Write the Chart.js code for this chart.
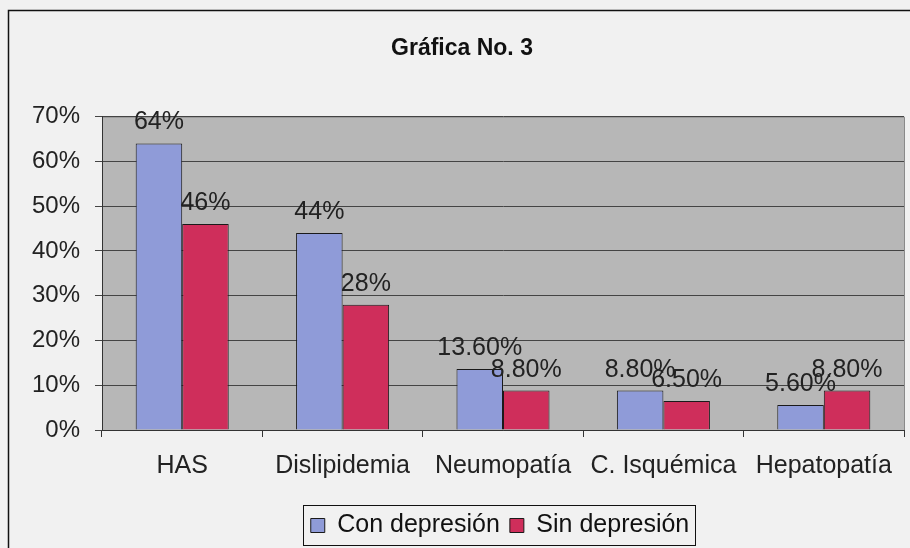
<!DOCTYPE html>
<html>
<head>
<meta charset="utf-8">
<script src="https://cdn.jsdelivr.net/npm/chart.js@4"></script>
<style>
  html, body { margin: 0; padding: 0; background: #f1f1f1; }
  #wrap { width: 910px; height: 548px; }
</style>
</head>
<body>
<div id="wrap"><canvas id="myChart" width="910" height="548"></canvas></div>
<script>
const categories = ['HAS', 'Dislipidemia', 'Neumopatía', 'C. Isquémica', 'Hepatopatía'];
const conDepresion = [64, 44, 13.6, 8.8, 5.6];
const sinDepresion = [46, 28, 8.8, 6.5, 8.8];
const conLabels = ['64%', '44%', '13.60%', '8.80%', '5.60%'];
const sinLabels = ['46%', '28%', '8.80%', '6.50%', '8.80%'];
const yTicks = [0, 10, 20, 30, 40, 50, 60, 70];

const FONT = '"Liberation Sans", Arial, sans-serif';

// paper background, frame, grey plot area and boxed legend
const frame = {
    id: 'frame',
    afterLayout(chart) {
        // the legend sits a little right of centre in the original
        chart.legend.left += 38;
        chart.legend.right += 38;
    },
    beforeDraw(chart) {
        const c = chart.ctx, a = chart.chartArea;
        c.save();
        c.fillStyle = '#f1f1f1';
        c.fillRect(0, 0, chart.width, chart.height);
        c.strokeStyle = '#111';
        c.lineWidth = 1.5;
        c.strokeRect(8.5, 10.5, chart.width + 5, chart.height);
        c.fillStyle = '#b7b7b7';
        c.fillRect(a.left, a.top, a.right - a.left, a.bottom - a.top);
        c.strokeStyle = '#8a8a8a';
        c.lineWidth = 1;
        c.beginPath();
        c.moveTo(a.left, a.top + 0.5);
        c.lineTo(a.right + 0.5, a.top + 0.5);
        c.lineTo(a.right + 0.5, a.bottom);
        c.stroke();
        c.restore();
    },
    afterDraw(chart) {
        const lg = chart.legend, c = chart.ctx;
        c.save();
        c.strokeStyle = '#111';
        c.lineWidth = 1;
        let w = 0;
        lg.legendHitBoxes.forEach(b => { w = Math.max(w, b.left + b.width); });
        const l = lg.legendHitBoxes[0].left - 8;
        c.strokeRect(Math.round(l) + 0.5, 505.5, Math.round(w + 6 - l), 40);
        c.restore();
    }
};

// value labels above bars
const valueLabels = {
    id: 'valueLabels',
    afterDatasetsDraw(chart) {
        const c = chart.ctx;
        c.save();
        c.font = '25px ' + FONT;
        c.fillStyle = '#222';
        c.textAlign = 'center';
        c.textBaseline = 'alphabetic';
        [conLabels, sinLabels].forEach((txt, di) => {
            chart.getDatasetMeta(di).data.forEach((bar, i) => {
                c.fillText(txt[i], bar.x, bar.y - 14);
            });
        });
        c.restore();
    }
};

new Chart(document.getElementById('myChart').getContext('2d'), {
    type: 'bar',
    data: {
        labels: categories,
        datasets: [{
            label: 'Con depresión',
            data: conDepresion,
            backgroundColor: '#8f9bd8',
            borderColor: '#1a1a1a',
            borderWidth: 1
        }, {
            label: 'Sin depresión',
            data: sinDepresion,
            backgroundColor: '#cf2e5b',
            borderColor: '#1a1a1a',
            borderWidth: 1
        }]
    },
    options: {
        responsive: false,
        animation: false,
        layout: { padding: { left: 20, right: 6, top: 0, bottom: 0 } },
        datasets: { bar: { categoryPercentage: 0.58, barPercentage: 1.0 } },
        scales: {
            x: {
                grid: { display: true, drawOnChartArea: false, drawTicks: true, tickLength: 7, color: '#333', offset: true },
                border: { color: '#333' },
                ticks: { color: '#222', font: { family: FONT, size: 25 }, padding: 14 },
                afterFit(s) { s.height = 73; }
            },
            y: {
                min: 0,
                max: 70,
                afterBuildTicks(s) { s.ticks = yTicks.map(v => ({ value: v })); },
                grid: { color: '#444', tickLength: 7 },
                border: { color: '#333' },
                ticks: {
                    color: '#222',
                    font: { family: FONT, size: 24 },
                    padding: 15,
                    callback: v => v + '%'
                },
                afterFit(s) { s.width = 82; }
            }
        },
        plugins: {
            title: {
                display: true,
                text: 'Gráfica No. 3',
                color: '#111',
                font: { family: FONT, size: 23, weight: 'bold' },
                padding: { top: 35, bottom: 54 }
            },
            legend: {
                position: 'bottom',
                labels: {
                    color: '#111',
                    font: { family: FONT, size: 25 },
                    boxWidth: 14,
                    boxHeight: 14,
                    padding: 10
                }
            },
            tooltip: { enabled: false }
        }
    },
    plugins: [frame, valueLabels]
});
</script>
</body>
</html>
